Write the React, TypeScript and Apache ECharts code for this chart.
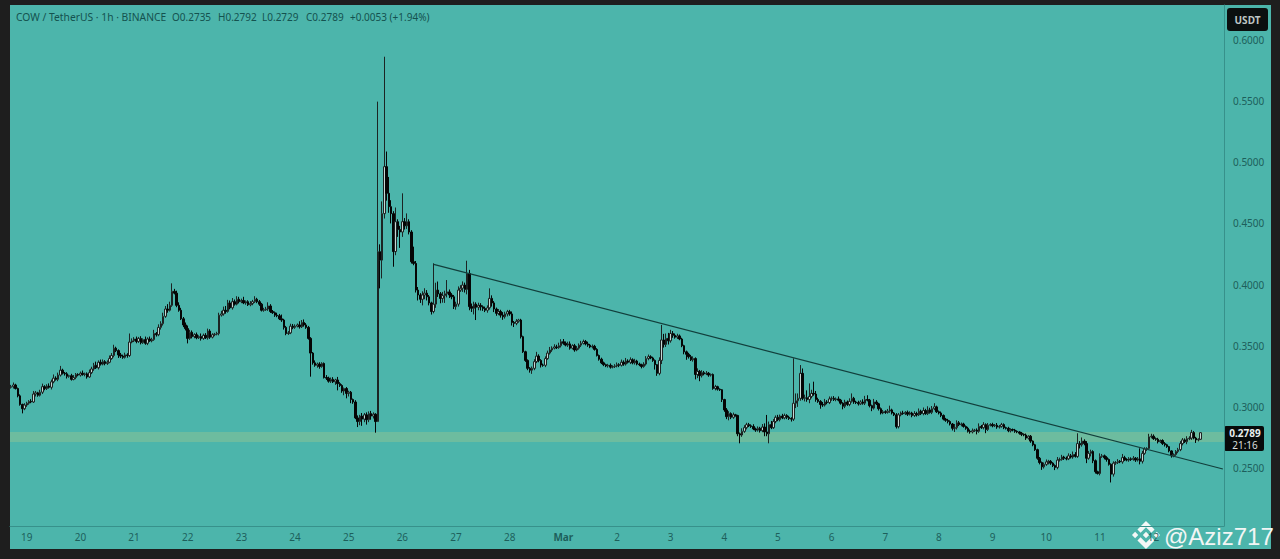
import React, { useEffect, useRef } from "react";
import * as echarts from "echarts";

const titleText = "COW / TetherUS · 1h · BINANCE";
const ohlcTexts = ["O0.2735", "H0.2792", "L0.2729", "C0.2789", "+0.0053 (+1.94%)"];
const ohlcX = [172, 218, 262, 306, 350];
const dayLabels = ["19", "20", "21", "22", "23", "24", "25", "26", "27", "28", "Mar", "2", "3", "4", "5", "6", "7", "8", "9", "10", "11", "12"];
const priceTicks = [0.25, 0.3, 0.35, 0.4, 0.45, 0.5, 0.55, 0.6];

// Hourly closes, in 0.0001 USDT. One row per day, from 18 Feb 17:00.
const closes = [
  3165, 3179, 3150, 3090, 3020, 2985, 3015,
  3030, 3045, 3040, 3105, 3115, 3095, 3120, 3165, 3150, 3170, 3160, 3205, 3235, 3225, 3260, 3300, 3275, 3270, 3250, 3255, 3225, 3240, 3265, 3260,
  3275, 3265, 3270, 3245, 3280, 3310, 3340, 3320, 3365, 3350, 3370, 3355, 3365, 3395, 3420, 3480, 3460, 3425, 3415, 3405, 3425, 3420, 3530, 3540,
  3555, 3535, 3560, 3525, 3550, 3520, 3555, 3540, 3550, 3600, 3590, 3650, 3680, 3740, 3800, 3790, 3830, 3945, 3930, 3830, 3790, 3720, 3670, 3640,
  3560, 3610, 3575, 3590, 3565, 3575, 3560, 3585, 3565, 3620, 3570, 3590, 3595, 3600, 3750, 3760, 3790, 3780, 3850, 3810, 3860, 3840, 3880, 3860,
  3870, 3850, 3860, 3835, 3845, 3860, 3880, 3860, 3840, 3790, 3795, 3800, 3825, 3780, 3770, 3750, 3745, 3720, 3710, 3650, 3600, 3605, 3660, 3650,
  3660, 3670, 3655, 3690, 3670, 3650, 3560, 3440, 3360, 3340, 3350, 3330, 3355, 3240, 3235, 3210, 3225, 3205, 3220, 3190, 3175, 3130, 3150, 3110,
  3120, 3060, 3040, 2910, 2880, 2925, 2900, 2935, 2895, 2945, 2925, 2940, 2880, 4269, 4200, 4580, 4964, 4746, 4637, 4580, 4270, 4514, 4450, 4430,
  4514, 4480, 4514, 4430, 4187, 4173, 3955, 3915, 3880, 3915, 3930, 3900, 3850, 3780, 3840, 3955, 3924, 3887, 3910, 3925, 3940, 3915, 3900, 3820,
  3840, 3955, 3970, 3996, 3960, 4090, 3820, 3806, 3840, 3815, 3830, 3818, 3805, 3790, 3810, 3887, 3850, 3800, 3765, 3780, 3750, 3737, 3760, 3778,
  3760, 3690, 3683, 3700, 3710, 3574, 3451, 3380, 3315, 3300, 3315, 3370, 3415, 3380, 3342, 3340, 3395, 3440, 3465, 3480, 3490, 3485, 3500, 3533,
  3520, 3505, 3515, 3480, 3500, 3465, 3480, 3505, 3520, 3535, 3515, 3505, 3490, 3495, 3470, 3420, 3390, 3360, 3345, 3335, 3340, 3325, 3330, 3335,
  3345, 3340, 3365, 3350, 3375, 3365, 3385, 3360, 3375, 3350, 3345, 3330, 3350, 3395, 3410, 3400, 3380, 3345, 3274, 3380, 3547, 3510, 3560, 3540,
  3600, 3585, 3570, 3580, 3555, 3500, 3450, 3430, 3410, 3385, 3395, 3265, 3290, 3255, 3280, 3270, 3275, 3260, 3265, 3150, 3165, 3145, 3140, 3060,
  2975, 2920, 2945, 2915, 2935, 2930, 2780, 2770, 2800, 2830, 2855, 2845, 2840, 2820, 2810, 2825, 2805, 2835, 2795, 2780, 2855, 2830, 2880, 2915,
  2895, 2925, 2910, 2930, 2915, 2905, 2900, 3030, 3050, 3070, 3274, 3070, 3075, 3060, 3085, 3110, 3105, 3060, 3045, 3020, 3015, 3040, 3035, 3065,
  3070, 3060, 3065, 3055, 3030, 3005, 3040, 3020, 3045, 3070, 3040, 3035, 3025, 3040, 3030, 3060, 3055, 3010, 2990, 3040, 3025, 2985, 2950, 2960,
  2955, 2965, 2975, 2950, 2935, 2838, 2935, 2950, 2945, 2955, 2940, 2950, 2930, 2945, 2935, 2965, 2945, 2970, 2945, 2975, 2955, 2985, 3000, 2960,
  2950, 2930, 2900, 2890, 2880, 2860, 2825, 2830, 2870, 2855, 2860, 2840, 2825, 2800, 2795, 2805, 2810, 2800, 2840, 2830, 2855, 2815, 2850, 2855,
  2845, 2850, 2835, 2840, 2855, 2830, 2825, 2805, 2815, 2810, 2800, 2795, 2785, 2775, 2770, 2745, 2760, 2720, 2690, 2650, 2580, 2545, 2510, 2530,
  2550, 2555, 2540, 2520, 2505, 2565, 2570, 2590, 2580, 2575, 2600, 2590, 2610, 2595, 2700, 2690, 2720, 2700, 2580, 2620, 2635, 2560, 2470, 2455,
  2595, 2600, 2585, 2570, 2530, 2450, 2540, 2545, 2555, 2550, 2585, 2570, 2565, 2575, 2570, 2580, 2565, 2575, 2555, 2620, 2655, 2660, 2755, 2760,
  2740, 2735, 2715, 2725, 2700, 2690, 2675, 2640, 2600, 2610, 2635, 2650, 2700, 2730, 2715, 2740, 2745, 2790, 2745, 2730, 2735, 2789,
];

// Height of each upper wick above the body, in 0.0001 USDT.
const upperWicks = [
  15, 20, 10, 8, 12, 6, 15,
  12, 10, 18, 25, 15, 8, 20, 25, 12, 15, 22, 18, 30, 15, 20, 35, 12, 10, 14, 8, 15, 20, 12, 10,
  14, 22, 10, 12, 25, 18, 20, 30, 15, 22, 18, 12, 15, 25, 20, 28, 12, 10, 16, 12, 18, 14, 70, 20,
  15, 20, 12, 18, 10, 25, 14, 20, 15, 30, 12, 25, 20, 30, 25, 40, 30, 65, 20, 20, 25, 20, 15, 20,
  25, 20, 15, 12, 18, 10, 25, 14, 18, 20, 15, 12, 10, 14, 20, 25, 30, 35, 25, 20, 30, 18, 25, 20,
  15, 30, 10, 12, 20, 15, 25, 12, 14, 10, 15, 18, 30, 15, 12, 10, 20, 15, 35, 10, 12, 15, 20, 18,
  15, 12, 30, 20, 25, 15, 12, 10, 8, 20, 12, 15, 10, 8, 20, 12, 15, 18, 10, 25, 12, 10, 8, 12,
  12, 10, 8, 15, 20, 10, 25, 15, 20, 18, 22, 15, 8, 1227, 60, 100, 899, 124, 134, 53, 20, 116, 20, 30,
  232, 30, 68, 20, 15, 123, 20, 25, 15, 30, 40, 25, 15, 10, 334, 60, 70, 15, 30, 25, 97, 20, 15, 15,
  20, 30, 25, 30, 20, 105, 30, 25, 20, 15, 22, 18, 12, 15, 20, 82, 25, 15, 12, 20, 14, 25, 18, 15,
  15, 20, 12, 18, 10, 10, 8, 8, 8, 10, 15, 20, 35, 15, 10, 12, 18, 20, 25, 15, 22, 18, 25, 20,
  22, 15, 18, 20, 12, 15, 18, 14, 20, 15, 12, 18, 10, 15, 12, 10, 8, 12, 10, 8, 12, 15, 10, 14,
  18, 12, 22, 15, 25, 14, 20, 12, 18, 10, 12, 8, 15, 20, 18, 12, 10, 8, 5, 25, 123, 50, 40, 45,
  30, 20, 15, 18, 12, 10, 8, 10, 12, 15, 18, 10, 25, 12, 20, 14, 18, 10, 8, 8, 15, 8, 6, 5,
  6, 15, 20, 10, 18, 8, 5, 10, 25, 20, 15, 14, 12, 18, 10, 15, 12, 25, 30, 139, 25, 30, 20, 15,
  20, 12, 18, 15, 10, 12, 10, 367, 60, 40, 68, 40, 25, 60, 107, 30, 96, 25, 15, 10, 20, 25, 15, 20,
  15, 18, 12, 20, 10, 8, 18, 12, 25, 40, 12, 10, 15, 14, 22, 30, 35, 10, 8, 25, 15, 8, 10, 15,
  12, 18, 35, 10, 8, 14, 15, 12, 18, 10, 15, 14, 10, 20, 15, 22, 12, 25, 14, 30, 18, 22, 30, 10,
  10, 12, 8, 10, 12, 10, 8, 30, 20, 14, 12, 10, 8, 12, 15, 18, 10, 14, 25, 12, 20, 10, 18, 12,
  15, 10, 18, 12, 14, 10, 8, 12, 10, 8, 10, 8, 6, 10, 8, 12, 8, 10, 6, 8, 8, 10, 8, 15,
  20, 12, 10, 8, 10, 25, 15, 18, 10, 14, 20, 15, 25, 20, 84, 20, 30, 15, 20, 20, 15, 10, 10, 8,
  25, 15, 10, 12, 8, 8, 15, 12, 18, 10, 30, 15, 10, 14, 12, 18, 10, 15, 86, 20, 15, 10, 25, 20,
  15, 10, 12, 8, 10, 12, 8, 6, 5, 10, 12, 15, 20, 15, 12, 20, 15, 22, 12, 10, 8, 3,
];

// Depth of each lower wick below the body, in 0.0001 USDT.
const lowerWicks = [
  10, 15, 8, 12, 10, 38, 12,
  15, 12, 10, 8, 20, 12, 10, 15, 14, 12, 10, 18, 12, 10, 15, 12, 10, 14, 18, 12, 10, 8, 14, 10,
  12, 10, 15, 14, 8, 12, 15, 10, 14, 12, 10, 15, 12, 8, 10, 15, 12, 25, 15, 12, 10, 18, 12, 10,
  10, 15, 12, 14, 10, 12, 15, 8, 12, 10, 15, 12, 18, 15, 12, 20, 10, 12, 10, 15, 12, 10, 18, 15,
  41, 12, 15, 14, 12, 10, 18, 12, 10, 15, 14, 10, 12, 10, 15, 12, 14, 18, 10, 12, 15, 12, 10, 14,
  12, 10, 15, 10, 12, 14, 10, 12, 14, 10, 12, 10, 15, 12, 10, 14, 12, 10, 15, 18, 14, 12, 10, 15,
  12, 10, 15, 10, 14, 12, 10, 193, 15, 12, 20, 18, 10, 8, 15, 12, 14, 10, 25, 55, 12, 15, 35, 40,
  25, 30, 15, 10, 45, 30, 55, 25, 40, 20, 30, 20, 91, 2, 231, 150, 40, 60, 50, 80, 124, 30, 60, 130,
  40, 30, 25, 20, 15, 15, 20, 45, 30, 50, 35, 30, 20, 25, 15, 30, 25, 40, 35, 60, 30, 25, 20, 20,
  25, 20, 15, 30, 25, 40, 30, 30, 50, 105, 25, 30, 20, 15, 20, 15, 30, 25, 20, 15, 20, 25, 15, 20,
  15, 25, 30, 15, 12, 15, 10, 12, 15, 20, 30, 15, 12, 15, 20, 12, 15, 10, 12, 15, 10, 12, 10, 14,
  12, 10, 15, 12, 10, 14, 10, 12, 15, 10, 12, 14, 10, 12, 10, 8, 12, 10, 12, 10, 14, 12, 10, 12,
  12, 15, 10, 14, 12, 10, 15, 12, 14, 10, 12, 15, 10, 12, 14, 10, 12, 40, 20, 15, 30, 25, 20, 30,
  15, 20, 12, 15, 10, 12, 20, 45, 15, 10, 15, 40, 30, 45, 15, 12, 10, 14, 12, 10, 15, 12, 10, 20,
  15, 20, 30, 15, 12, 10, 20, 68, 15, 12, 14, 10, 12, 10, 14, 12, 15, 12, 35, 20, 78, 12, 10, 14,
  12, 14, 10, 12, 15, 12, 20, 15, 40, 50, 20, 15, 25, 18, 30, 15, 14, 18, 12, 35, 15, 12, 14, 12,
  15, 12, 14, 10, 12, 25, 15, 12, 14, 10, 15, 12, 14, 10, 12, 15, 10, 14, 25, 12, 10, 15, 12, 10,
  12, 10, 14, 12, 10, 15, 14, 12, 10, 12, 14, 10, 15, 12, 14, 10, 12, 14, 10, 12, 10, 14, 12, 10,
  12, 14, 10, 12, 15, 12, 18, 30, 15, 12, 14, 10, 12, 10, 14, 12, 10, 25, 12, 10, 14, 30, 12, 10,
  12, 10, 14, 12, 10, 12, 10, 12, 14, 10, 12, 10, 12, 14, 10, 15, 12, 14, 12, 10, 12, 15, 25, 14,
  12, 20, 14, 12, 22, 15, 12, 10, 14, 12, 10, 12, 14, 10, 12, 30, 15, 14, 40, 12, 25, 20, 15, 8,
  15, 12, 14, 18, 10, 68, 20, 14, 12, 10, 15, 12, 10, 14, 12, 10, 15, 12, 25, 18, 12, 15, 10, 12,
  10, 12, 14, 10, 12, 14, 10, 12, 15, 12, 10, 14, 12, 15, 10, 20, 12, 15, 10, 25, 12, 6,
];

const firstOpen = 3160;
const slotCount = 543;
const firstMidnightSlot = 7;
const trendStart = { slot: 189.4, price: 0.4165 };
const trendEnd = { slot: 542, price: 0.2492 };
const zoneTop = 0.2795;
const zoneBottom = 0.2713;

const categories = Array.from({ length: slotCount }, (_, i) => {
  const d = i - firstMidnightSlot;
  return d >= 0 && d % 24 === 0 ? dayLabels[d / 24] ?? "" : "";
});

const candles = closes.map((c, i) => {
  const o = i === 0 ? firstOpen : closes[i - 1];
  const h = Math.max(o, c) + upperWicks[i];
  const l = Math.min(o, c) - lowerWicks[i];
  return [o / 10000, c / 10000, l / 10000, h / 10000];
});

const binanceLogo =
  "M38.73 53.2L64 27.93l25.28 25.28 14.7-14.7L64-1.47 24.03 38.5zM-1.5 64l14.7-14.7L27.9 64l-14.7 14.7zM38.73 74.8L64 100.07l25.28-25.28 14.7 14.7L64 129.47 24.03 89.5zM100.1 64l14.7-14.7L129.5 64l-14.7 14.7zM78.9 64L64 49.1 53 60.1l-1.3 1.3-2.6 2.6L64 78.9z";
echarts.graphic.registerShape("binanceLogo", echarts.graphic.extendPath(binanceLogo as any, {}) as any);

const textDark = "#14524f";
const axisText = "#1d5f5b";
const axisLine = "#37918b";
const sansFont = "'Noto Sans', sans-serif";

export default function App() {
  const ref = useRef<HTMLDivElement>(null);
  useEffect(() => {
    if (!ref.current) return;
    const chart = echarts.init(ref.current, undefined, { renderer: "svg" });
    chart.setOption({
      animation: false,
      backgroundColor: "transparent",
      grid: { left: 10, right: 56, top: 5, bottom: 33 },
      xAxis: {
        type: "category",
        data: categories,
        boundaryGap: true,
        axisLine: { show: true, lineStyle: { color: axisLine, width: 1 } },
        axisTick: { show: false },
        splitLine: { show: false },
        axisLabel: {
          interval: (_: number, v: string) => v !== "",
          formatter: (v: string) => (v === "Mar" ? "{b|Mar}" : v),
          color: axisText,
          fontSize: 10,
          fontFamily: sansFont,
          margin: 6,
          rich: { b: { fontWeight: "bold", fontSize: 10, color: axisText, fontFamily: sansFont } },
        },
      },
      yAxis: {
        type: "value",
        position: "right",
        min: 0.2026,
        max: 0.6286,
        scale: true,
        axisLine: { show: true, lineStyle: { color: axisLine, width: 1 } },
        axisTick: { show: false },
        splitLine: { show: false },
        axisLabel: {
          customValues: priceTicks,
          formatter: (v: number) => v.toFixed(4),
          color: axisText,
          fontSize: 10,
          fontFamily: sansFont,
          margin: 9,
        },
      },
      series: [
        {
          type: "candlestick",
          data: candles,
          barWidth: 2,
          clip: true,
          itemStyle: {
            color: "#c4d8d4",
            color0: "#050505",
            borderColor: "#1c2423",
            borderColor0: "#050505",
            borderWidth: 1,
          },
          markArea: {
            silent: true,
            itemStyle: { color: "#6dbc9f" },
            data: [[{ yAxis: zoneTop }, { yAxis: zoneBottom }]],
          },
          markLine: {
            silent: true,
            symbol: "none",
            label: { show: false },
            lineStyle: { color: "#123f3c", width: 1.2, type: "solid" },
            data: [
              [
                { coord: [trendStart.slot, trendStart.price] },
                { coord: [trendEnd.slot, trendEnd.price] },
              ],
            ],
          },
        },
      ],
      graphic: [
        { type: "text", x: 16, y: 12, style: { text: titleText, fontSize: 10.3, fontFamily: sansFont, fill: textDark } },
        ...ohlcTexts.map((t, i) => ({
          type: "text",
          x: ohlcX[i],
          y: 12,
          style: { text: t, fontSize: 10, fontFamily: sansFont, fill: textDark },
        })),
        { type: "rect", shape: { x: 1227, y: 8, width: 41, height: 23, r: 3 }, style: { fill: "#0b0f0f" } },
        {
          type: "text",
          x: 1247.5,
          y: 19.5,
          style: { text: "USDT", fontSize: 10, fontWeight: "bold", fontFamily: sansFont, fill: "#bfc6c5", align: "center", verticalAlign: "middle" },
        },
        { type: "rect", shape: { x: 1224, y: 426, width: 40, height: 25, r: 2 }, style: { fill: "#070a0a" } },
        {
          type: "text",
          x: 1245,
          y: 432.5,
          style: { text: "0.2789", fontSize: 10, fontWeight: "bold", fontFamily: sansFont, fill: "#e8eeee", align: "center", verticalAlign: "middle" },
        },
        {
          type: "text",
          x: 1245,
          y: 444.5,
          style: { text: "21:16", fontSize: 10, fontFamily: sansFont, fill: "#d8dede", align: "center", verticalAlign: "middle" },
        },
        { type: "binanceLogo", x: 1132.3, y: 521.3, scaleX: 0.214, scaleY: 0.214, style: { fill: "#f4f8f7" } },
        {
          type: "text",
          x: 1164,
          y: 536,
          style: { text: "@Aziz717", fontSize: 24, fontFamily: "'Liberation Sans', Arial, sans-serif", fill: "#f2f6f5", verticalAlign: "middle" },
        },
      ],
    });
    return () => chart.dispose();
  }, []);

  return (
    <div style={{ position: "fixed", left: 0, top: 0, width: 1280, height: 559, background: "#1e1e1e", overflow: "hidden" }}>
      <div style={{ position: "absolute", left: 10, top: 5, width: 1261, height: 544, background: "#4cb5ab" }} />
      <div ref={ref} style={{ position: "absolute", left: 0, top: 0, width: 1280, height: 559 }} />
    </div>
  );
}
